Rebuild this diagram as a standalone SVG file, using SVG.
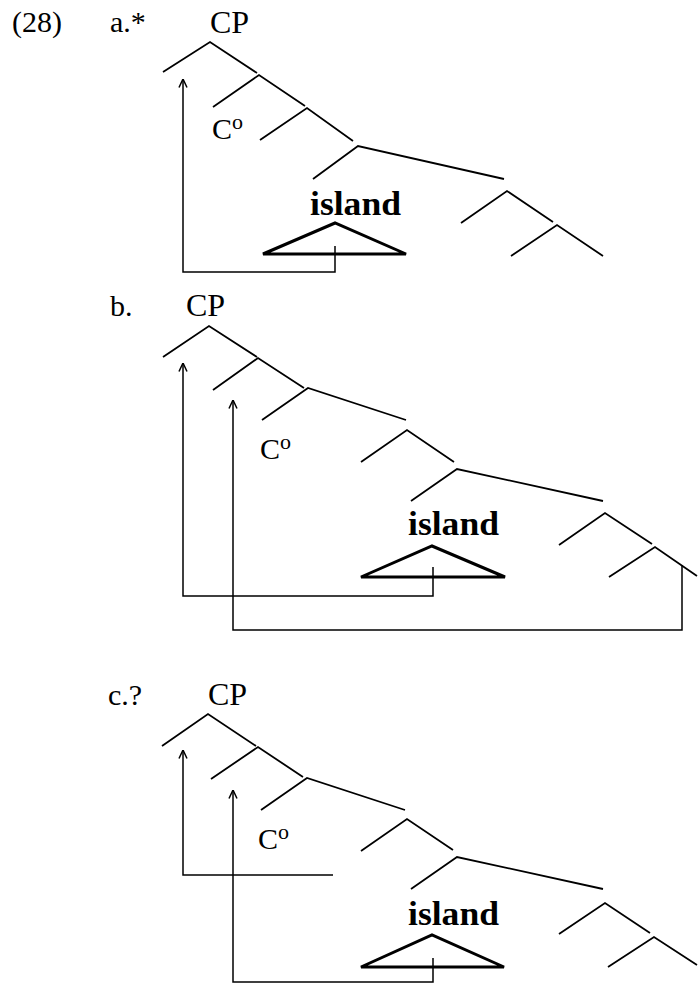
<svg xmlns="http://www.w3.org/2000/svg" width="698" height="985" viewBox="0 0 698 985">
<style>
  .t { font-family: "Liberation Serif", "Times New Roman", serif; fill: #000; }
  .lbl { font-size: 30px; }
  .cp { font-size: 32px; }
  .c0 { font-size: 30px; }
  .sup { font-size: 22px; }
  .isl { font-size: 33px; font-weight: bold; }
  .br { fill: none; stroke: #000; stroke-width: 1.8; stroke-linejoin: miter; }
  .tri { fill: none; stroke: #000; stroke-width: 3; stroke-linejoin: miter; }
  .arr { fill: none; stroke: #000; stroke-width: 1.5; }
</style>
<defs>
  <marker id="ah" viewBox="0 0 10 10" refX="9.5" refY="5" markerWidth="10" markerHeight="10" markerUnits="userSpaceOnUse" orient="auto">
    <path d="M1,1 L9.5,5 L1,9" fill="none" stroke="#000" stroke-width="1.5"/>
  </marker>
</defs>
<rect width="698" height="985" fill="#fff"/>

<!-- labels -->
<g id="labels">
  <text class="t lbl" x="12" y="32">(28)</text>
  <text class="t lbl" x="110" y="32">a.*</text>
  <text class="t lbl" x="110" y="316">b.</text>
  <text class="t lbl" x="108" y="705">c.?</text>
</g>

<!-- Tree a -->
<g id="tree-a">
  <g id="a-cp"><text class="t cp" x="210" y="33">CP</text></g>
  <g id="a-n1"><polyline class="br" points="163,72 210,42 257,73"/></g>
  <g id="a-n2"><polyline class="br" points="213,107 259,75 305,106"/></g>
  <g id="a-c0"><text class="t c0" x="212" y="139">C<tspan class="sup" dy="-10">o</tspan></text></g>
  <g id="a-n3"><polyline class="br" points="260,140 307,108 353,141"/></g>
  <g id="a-n4"><polyline class="br" points="313,179 358,146 504,179"/></g>
  <g id="a-island"><text class="t isl" x="310" y="215" textLength="91" lengthAdjust="spacingAndGlyphs">island</text>
    <polygon class="tri" points="263,254 335,223 406,254"/></g>
  <g id="a-n5"><polyline class="br" points="461,223 507,191 553,222"/></g>
  <g id="a-n6"><polyline class="br" points="511,256 557,225 603,256"/></g>
</g>

<!-- Tree b -->
<g id="tree-b">
  <g id="b-cp"><text class="t cp" x="186" y="316">CP</text></g>
  <g id="b-n1"><polyline class="br" points="163,357 209,326 257,357"/></g>
  <g id="b-n2"><polyline class="br" points="213,390 258,358 304,388"/></g>
  <g id="b-n3"><polyline class="br" points="262,420 308,388 406,420"/></g>
  <g id="b-c0"><text class="t c0" x="260" y="459">C<tspan class="sup" dy="-10">o</tspan></text></g>
  <g id="b-n4"><polyline class="br" points="361,462 407,430 454,462"/></g>
  <g id="b-n5"><polyline class="br" points="411,501 457,469 603,501"/></g>
  <g id="b-island"><text class="t isl" x="408" y="535" textLength="91" lengthAdjust="spacingAndGlyphs">island</text>
    <polygon class="tri" points="361,577 432,546 505,577"/></g>
  <g id="b-n6"><polyline class="br" points="559,545 605,513 652,544"/></g>
  <g id="b-n7"><polyline class="br" points="609,577 655,547 697,576"/></g>
</g>

<!-- Tree c -->
<g id="tree-c">
  <g id="c-cp"><text class="t cp" x="208" y="705">CP</text></g>
  <g id="c-n1"><polyline class="br" points="162,746 208,714 256,746"/></g>
  <g id="c-n2"><polyline class="br" points="211,779 258,747 303,777"/></g>
  <g id="c-n3"><polyline class="br" points="261,810 307,778 405,810"/></g>
  <g id="c-c0"><text class="t c0" x="258" y="849">C<tspan class="sup" dy="-10">o</tspan></text></g>
  <g id="c-n4"><polyline class="br" points="361,851 407,819 453,850"/></g>
  <g id="c-n5"><polyline class="br" points="411,889 457,857 603,889"/></g>
  <g id="c-island"><text class="t isl" x="408" y="925" textLength="91" lengthAdjust="spacingAndGlyphs">island</text>
    <polygon class="tri" points="361,967 432,935 504,967"/></g>
  <g id="c-n6"><polyline class="br" points="559,934 605,903 650,933"/></g>
  <g id="c-n7"><polyline class="br" points="608,967 654,937 697,965"/></g>
</g>

<!-- connectors -->
<g id="connectors">
  <path class="arr" d="M335,246 V272 H183 V79" marker-end="url(#ah)"/>
  <path class="arr" d="M433,567 V596 H183 V363" marker-end="url(#ah)"/>
  <path class="arr" d="M682,565 V630 H233 V400" marker-end="url(#ah)"/>
  <path class="arr" d="M333,875 H183 V750" marker-end="url(#ah)"/>
  <path class="arr" d="M433,958 V982 H233 V790" marker-end="url(#ah)"/>
</g>
</svg>
